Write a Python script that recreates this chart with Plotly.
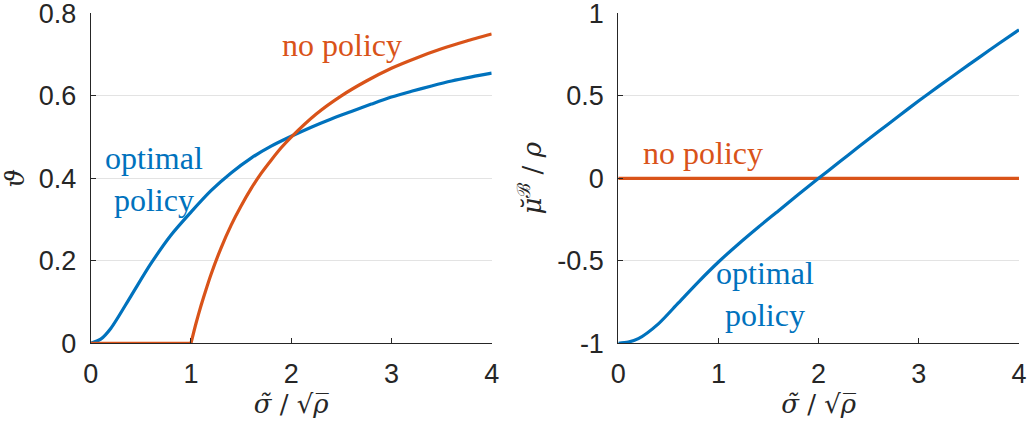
import plotly.graph_objects as go

# ---- data ----
x_opt_left = [0, 0.1, 0.2, 0.4, 0.6, 0.8, 1.0, 1.2, 1.4, 1.6, 1.8, 2.0, 2.2, 2.4, 2.6, 2.8, 3.0, 3.2, 3.4, 3.6, 3.8, 4.0]
theta_opt = [0, 0.01, 0.036, 0.114, 0.193, 0.262, 0.318, 0.37, 0.413, 0.449, 0.478, 0.502, 0.524, 0.544,
             0.562, 0.58, 0.597, 0.611, 0.624, 0.636, 0.646, 0.655]

x_nop_left_flat = [0, 1.0]
theta_nop_flat = [0, 0]
x_nop_left = [1.0, 1.05, 1.1, 1.15, 1.2, 1.3, 1.4, 1.5, 1.6, 1.7, 1.8, 1.9, 2.0,
              2.25, 2.5, 2.75, 3.0, 3.25, 3.5, 3.75, 4.0]
theta_nop = [0, 0.048, 0.091, 0.13, 0.167, 0.231, 0.286, 0.333, 0.375, 0.412, 0.444, 0.474, 0.5,
             0.556, 0.6, 0.636, 0.667, 0.692, 0.714, 0.733, 0.75]

x_opt_right = [0, 0.1, 0.2, 0.4, 0.6, 0.8, 1.0, 1.2, 1.4, 1.6, 1.8, 2.0, 2.2, 2.4, 2.6, 2.8, 3.0, 3.2, 3.4, 3.6, 3.8, 4.0]
mu_opt = [-1, -0.993, -0.972, -0.882, -0.755, -0.627, -0.507, -0.398, -0.295, -0.196, -0.097, 0, 0.096,
          0.191, 0.285, 0.378, 0.47, 0.559, 0.646, 0.732, 0.817, 0.9]

x_nop_right = [0, 4]
mu_nop = [0, 0]

left_yticks = [0, 0.2, 0.4, 0.6, 0.8]
left_yticklabels = ["0", "0.2", "0.4", "0.6", "0.8"]
right_yticks = [-1, -0.5, 0, 0.5, 1]
right_yticklabels = ["-1", "-0.5", "0", "0.5", "1"]
xticks = [0, 1, 2, 3, 4]
xticklabels = ["0", "1", "2", "3", "4"]

BLUE = "#0072BD"
ORANGE = "#D95319"
AX = "#262626"
GRID = "#e3e3e3"
LW = 3.2

fig = go.Figure()
fig.add_trace(go.Scatter(x=x_opt_left, y=theta_opt, mode="lines",
                         line=dict(color=BLUE, width=LW, shape="spline", smoothing=0.8),
                         xaxis="x", yaxis="y", showlegend=False))
fig.add_trace(go.Scatter(x=x_nop_left_flat, y=theta_nop_flat, mode="lines", line=dict(color=ORANGE, width=LW),
                         xaxis="x", yaxis="y", showlegend=False))
fig.add_trace(go.Scatter(x=x_nop_left, y=theta_nop, mode="lines",
                         line=dict(color=ORANGE, width=LW, shape="spline", smoothing=0.6),
                         xaxis="x", yaxis="y", showlegend=False))
fig.add_trace(go.Scatter(x=x_nop_right, y=mu_nop, mode="lines", line=dict(color=ORANGE, width=LW),
                         xaxis="x2", yaxis="y2", showlegend=False))
fig.add_trace(go.Scatter(x=x_opt_right, y=mu_opt, mode="lines",
                         line=dict(color=BLUE, width=LW, shape="spline", smoothing=0.8),
                         xaxis="x2", yaxis="y2", showlegend=False))

tickfont = dict(family="Liberation Sans, Arial, sans-serif", size=27, color=AX)
titlefont = dict(family="DejaVu Serif, serif", size=26, color=AX)

common_x = dict(range=[0, 4.0001], tickvals=xticks, ticktext=xticklabels, ticks="inside", ticklen=5,
                tickcolor=AX, showline=True, linecolor=AX, linewidth=1, mirror=False, showgrid=False,
                zeroline=False, tickfont=tickfont, ticklabelstandoff=6, automargin=False,
                ticklabeloverflow="allow",
                title=dict(text="<i>σ̃</i> / √<i>ρ̅</i>", font=titlefont, standoff=2))
common_y = dict(ticks="inside", ticklen=5, tickcolor=AX, showline=True, linecolor=AX, linewidth=1,
                mirror=False, showgrid=True, gridcolor=GRID, gridwidth=1, zeroline=False,
                tickfont=tickfont, ticklabelstandoff=8, automargin=False, ticklabeloverflow="allow")

y_dom = [1 - 343.3 / 425, 1 - 13.3 / 425]
fig.update_layout(
    width=1028, height=425,
    margin=dict(l=0, r=0, t=0, b=0),
    paper_bgcolor="white", plot_bgcolor="white",
    xaxis=dict(domain=[90.7 / 1028, 491.7 / 1028], anchor="y", **common_x),
    yaxis=dict(domain=y_dom, anchor="x", range=[0, 0.8002], tickvals=left_yticks, ticktext=left_yticklabels,
               title=dict(text="<i>ϑ</i>", font=titlefont, standoff=14), **common_y),
    xaxis2=dict(domain=[618.3 / 1028, 1019 / 1028], anchor="y2", **common_x),
    yaxis2=dict(domain=y_dom, anchor="x2", range=[-1, 1.0004], tickvals=right_yticks, ticktext=right_yticklabels,
                title=dict(text="<i>μ̆</i><sup>ℬ</sup> / <i>ρ</i>", font=titlefont, standoff=8), **common_y),
)

annfont_b = dict(family="Liberation Serif, serif", size=32, color=BLUE)
annfont_o = dict(family="Liberation Serif, serif", size=32, color=ORANGE)
fig.add_annotation(x=2.51, y=0.723, xref="x", yref="y", text="no policy", showarrow=False, font=annfont_o)
fig.add_annotation(x=0.63, y=0.398, xref="x", yref="y", text="optimal<br>policy", showarrow=False, font=annfont_b)
fig.add_annotation(x=0.845, y=0.153, xref="x2", yref="y2", text="no policy", showarrow=False, font=annfont_o)
fig.add_annotation(x=1.46, y=-0.704, xref="x2", yref="y2", text="optimal<br>policy", showarrow=False, font=annfont_b)

fig.write_html("out.html", config={"displayModeBar": False},
               post_script="document.body.style.margin='0px';document.body.style.overflow='hidden';")
